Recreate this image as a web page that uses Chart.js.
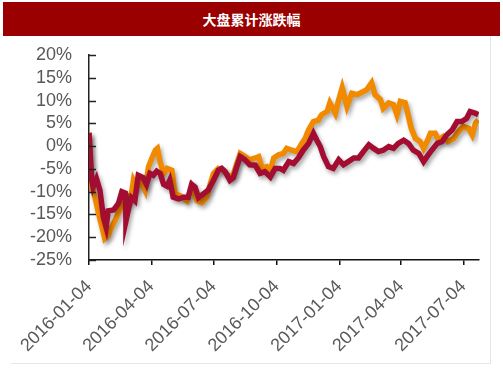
<!DOCTYPE html>
<html>
<head>
<meta charset="utf-8">
<script src="https://cdn.jsdelivr.net/npm/chart.js@4/dist/chart.umd.min.js"></script>
<style>
    html, body { margin:0; padding:0; background:#fff; }
    #wrap { position:relative; width:503px; height:378px; overflow:hidden; }
    #titleBar {
        position:absolute; left:3px; top:2px; width:497px; height:34px;
        background:#9b0000; color:#fff;
        font:bold 14px "Noto Sans CJK SC", sans-serif;
        line-height:34px; text-align:center;
    }
    #frame {
        position:absolute; left:11px; top:36px; width:479px; height:327px;
        border-right:1px solid #e6e6e6; border-bottom:1px solid #e6e6e6;
    }
    #chartBox { position:absolute; left:0; top:0; width:503px; height:378px; }
</style>
</head>
<body>
<div id="wrap">
    <div id="titleBar">大盘累计涨跌幅</div>
    <div id="frame"></div>
    <div id="chartBox"><canvas id="returnChart"></canvas></div>
</div>
<script>

// ==========================================
// Data (x = days since 2016-01-04, y = cumulative %)
// ==========================================

const tickLabels = ["2016-01-04", "2016-04-04", "2016-07-04", "2016-10-04", "2017-01-04", "2017-04-04", "2017-07-04"];

const seriesADays = [0, 4, 6, 11, 16, 21, 25, 28, 36, 43, 48, 53, 54, 58, 62, 67, 72, 79, 84, 89,
    94, 99, 104, 109, 114, 118, 123, 131, 138, 145, 150, 155, 160, 167, 174, 182, 189, 194, 199, 206,
    211, 216, 221, 228, 235, 243, 250, 257, 265, 272, 279, 284, 292, 299, 306, 313, 321, 328, 333, 338,
    343, 350, 357, 365, 372, 379, 387, 394, 401, 409, 416, 423, 430, 438, 445, 452, 460, 467, 474, 482,
    489, 494, 501, 509, 516, 523, 531, 538, 545, 552, 557, 565, 569];

const seriesAValues = [2.9, -7.5, -9, -7.2, -9.7, -15.6, -17.8, -14.2, -14, -12.6, -10, -10.3, -16.4, -13.6, -11.3, -12, -6.4, -6.9, -8.4, -6,
    -6.4, -5.5, -6, -8.4, -8.8, -7.5, -11.2, -11.6, -11.2, -11.2, -8.4, -9, -11.3, -10.5, -9.7, -7.5, -5.3, -4.9, -5.6, -7.5,
    -6.9, -4.5, -2.3, -3, -4.1, -4.2, -6, -5.6, -6.8, -4.9, -4.9, -5.3, -3.4, -3.8, -2.6, -0.9, 0.6, 2.8, 1.3, -0.1,
    -2.3, -4.5, -4.9, -3, -4.1, -3.4, -2.6, -2.6, -1.2, 0.3, -0.5, -1.2, -0.9, -0.1, -0.5, 0.6, 1.3, 0.6, -0.9, -1.6,
    -3.4, -2.3, -0.9, 0.6, 1.0, 2.5, 3.6, 5.4, 5.4, 6.1, 7.6, 7.2, 6.9];

const seriesBDays = [0, 4, 9, 14, 19, 23, 28, 33, 38, 45, 50, 55, 62, 65, 70, 75, 82, 87, 92, 97,
    100, 104, 109, 114, 121, 126, 133, 143, 150, 158, 165, 172, 177, 182, 189, 196, 206, 211, 216, 221,
    228, 235, 243, 248, 253, 260, 265, 270, 277, 284, 289, 296, 304, 311, 316, 321, 328, 335, 340, 348,
    352, 360, 365, 370, 377, 384, 392, 401, 406, 413, 418, 426, 430, 438, 445, 450, 455, 462, 467, 471,
    477, 484, 489, 494, 499, 506, 511, 518, 525, 533, 540, 547, 555, 560, 565, 569];

const seriesBValues = [3.0, -9, -11.3, -14.8, -17.8, -20.3, -19.6, -17.8, -16.3, -14, -11.2, -12.7, -10.5, -7.5, -9, -7.5, -9.7, -4.5, -2.6, -0.9,
    -0.5, -3.5, -6, -4.9, -5.3, -10.5, -10.9, -12, -9, -12, -12.4, -11.2, -8.4, -6, -4.9, -5.3, -6.8, -6.2, -3.8, -1.6,
    -2.3, -3.0, -2.6, -2.3, -4.9, -4.5, -5.3, -2.6, -1.9, -1.6, -0.5, -0.9, -1.2, 0.6, 1.7, 3.6, 5.4, 5.7, 6.9, 7.6,
    9.5, 7.2, 10.2, 12.8, 8.7, 11.6, 11.3, 12, 12.4, 13.9, 11.3, 10.2, 8.3, 9.5, 9.1, 6.9, 9.8, 9.5, 6.5, 3.9,
    1.7, 1.0, -0.5, 1.0, 2.8, 2.8, 1.3, 2.1, 1.0, 1.7, 3.2, 4.3, 3.9, 2.5, 5.1, 5.7];


// ==========================================
// Helpers
// ==========================================

const DAY_MS = 86400000;
const startMs = Date.UTC(2016, 0, 4);

function dayOffset(label) {
    const p = label.split("-").map(Number);
    return Math.round((Date.UTC(p[0], p[1] - 1, p[2]) - startMs) / DAY_MS);
}

const tickDays = tickLabels.map(dayOffset);

function toPoints(days, values) {
    return days.map((d, i) => ({ x: d, y: values[i] }));
}

// drop shadow under the lines
const lineShadow = {
    id: "lineShadow",
    beforeDatasetDraw(chart) {
        const ctx = chart.ctx;
        ctx.save();
        ctx.shadowColor = "rgba(0,0,0,0.35)";
        ctx.shadowBlur = 4;
        ctx.shadowOffsetX = 2;
        ctx.shadowOffsetY = 3;
    },
    afterDatasetDraw(chart) {
        chart.ctx.restore();
    }
};

// y axis ticks point into the plot
const innerTicks = {
    id: "innerTicks",
    afterDraw(chart) {
        const ctx = chart.ctx;
        const y = chart.scales.y;
        ctx.save();
        ctx.strokeStyle = "#222";
        ctx.lineWidth = 1.5;
        y.ticks.forEach(t => {
            const py = Math.round(y.getPixelForValue(t.value)) + 0.5;
            ctx.beginPath();
            ctx.moveTo(y.right, py);
            ctx.lineTo(y.right + 7, py);
            ctx.stroke();
        });
        ctx.restore();
    }
};


// ==========================================
// Chart
// ==========================================

function loadReturnChart() {

    const ctx = document.getElementById("returnChart");

    new Chart(ctx, {

        type: "line",

        data: {
            datasets: [
                {
                    data: toPoints(seriesADays, seriesAValues),
                    borderColor: "#a30d31",
                    borderWidth: 5.5,
                    borderJoinStyle: "miter",
                    pointRadius: 0,
                    tension: 0
                },
                {
                    data: toPoints(seriesBDays, seriesBValues),
                    borderColor: "#f28a00",
                    borderWidth: 5.5,
                    borderJoinStyle: "miter",
                    pointRadius: 0,
                    tension: 0
                }
            ]
        },

        options: {
            responsive: true,
            maintainAspectRatio: false,
            animation: false,
            layout: {
                padding: { top: 55, right: 24, left: 0, bottom: 0 }
            },
            plugins: {
                legend: { display: false },
                tooltip: { enabled: false }
            },
            scales: {
                x: {
                    type: "linear",
                    min: 0,
                    max: 570,
                    afterBuildTicks: scale => {
                        scale.ticks = tickDays.map(v => ({ value: v }));
                    },
                    afterFit: scale => { scale.height = 118; },
                    grid: {
                        drawOnChartArea: false,
                        drawTicks: true,
                        tickLength: 5,
                        color: "#111",
                        lineWidth: 1.5
                    },
                    border: { color: "#111", width: 1.5 },
                    ticks: {
                        autoSkip: false,
                        minRotation: 45,
                        maxRotation: 45,
                        padding: 11,
                        color: "#595959",
                        font: { family: "Liberation Sans", size: 18 },
                        callback: value => tickLabels[tickDays.indexOf(value)] || ""
                    }
                },
                y: {
                    min: -25,
                    max: 20,
                    afterFit: scale => { scale.width = 89; },
                    grid: {
                        drawOnChartArea: false,
                        drawTicks: false
                    },
                    border: { color: "#222", width: 1.5 },
                    ticks: {
                        autoSkip: false,
                        stepSize: 5,
                        padding: 17,
                        color: "#595959",
                        font: { family: "Liberation Sans", size: 18 },
                        callback: value => value + "%"
                    }
                }
            }
        },

        plugins: [lineShadow, innerTicks]

    });

}

loadReturnChart();

</script>
</body>
</html>
